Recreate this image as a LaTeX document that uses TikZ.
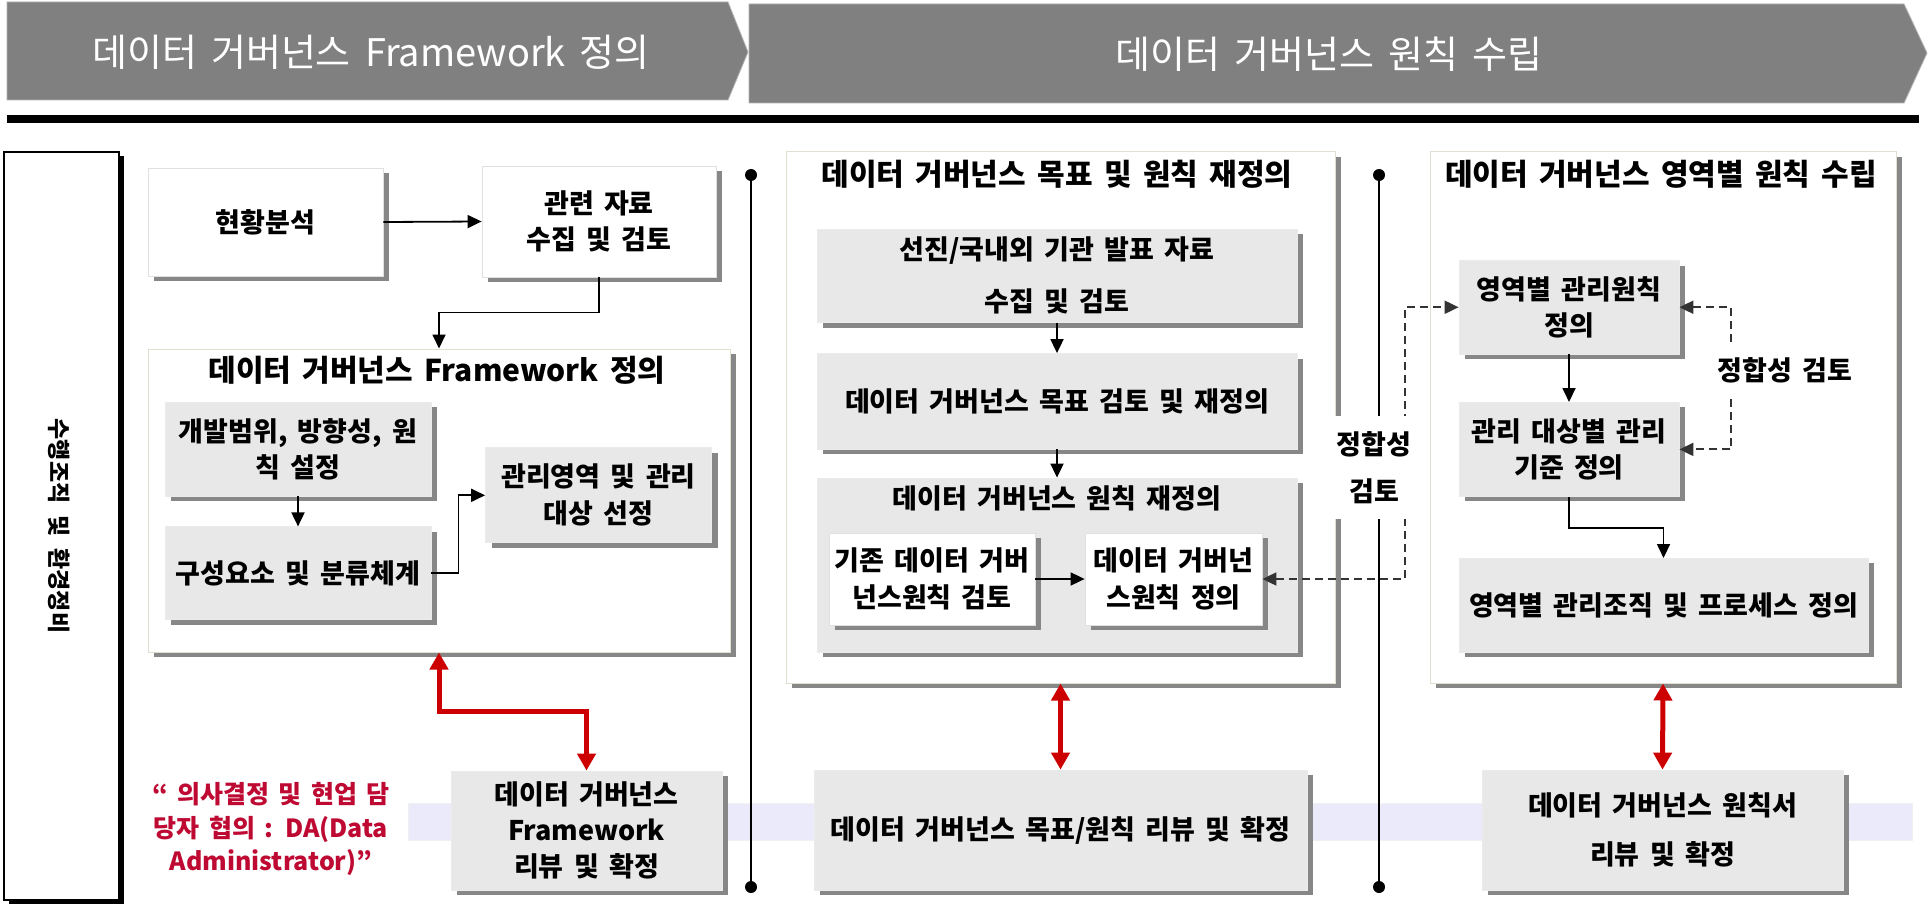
\documentclass[tikz,border=0pt]{standalone}
\usepackage{fontspec}
\setmainfont{Noto Sans CJK KR}[WordSpace=1.66]
\usetikzlibrary{arrows.meta,shadows,calc}
\definecolor{bannergray}{RGB}{128,128,128}
\definecolor{boxgray}{RGB}{232,232,232}
\definecolor{shadowgray}{RGB}{135,135,135}
\definecolor{panelborder}{RGB}{226,222,208}
\definecolor{bandcol}{RGB}{234,234,250}
\definecolor{arrred}{RGB}{204,0,0}
\definecolor{txtred}{RGB}{190,10,50}
\tikzset{
  lsp/.style={font=\bfseries\fontsize{27}{#1}\selectfont},
  shad/.style={drop shadow={shadow xshift=6pt, shadow yshift=-5pt, fill=shadowgray, opacity=1}},
  wbox/.style={inner sep=0pt, align=center, fill=white, draw=black!12, line width=0.8pt, shad},
  gbox/.style={inner sep=0pt, align=center, fill=boxgray, draw=black!8, line width=0.8pt, shad},
  panel/.style={inner sep=0pt, fill=white, draw=panelborder, line width=1pt, shad},
  ptitle/.style={inner sep=0pt, font=\bfseries\fontsize{30}{32}\selectfont},
  arr/.style={line width=1.8pt, -{Triangle[length=14pt,width=13pt]}},
  redarr/.style={line width=5pt, draw=arrred, {Triangle[length=17pt,width=18pt]}-{Triangle[length=17pt,width=18pt]}},
  dasharr/.style={line width=2pt, draw=black!80, dash pattern=on 8pt off 5pt, {Triangle[length=14pt,width=13pt]}-{Triangle[length=14pt,width=13pt]}},
  dotn/.style={circle, fill=black, inner sep=0pt, minimum size=12pt},
  vline/.style={line width=2pt},
  lbl/.style={fill=white, inner sep=0pt, align=center},
}
\begin{document}
\begin{tikzpicture}[x=1pt,y=-1pt]
\useasboundingbox (0,0) rectangle (1929,904);
\fill[white] (0,0) rectangle (1929,904);

% header banners
\fill[bannergray, draw=black!30, line width=0.8pt] (7,2) -- (728,2) -- (748,52) -- (728,100) -- (7,100) -- cycle;
\fill[bannergray, draw=black!30, line width=0.8pt] (749,4) -- (1904,4) -- (1927,53) -- (1904,103) -- (749,103) -- cycle;
\node[text=white, font=\fontsize{38}{40}\selectfont, inner sep=0pt] (h1) at (371,52) {데이터 거버넌스 Framework 정의};
\node[text=white, font=\fontsize{38}{40}\selectfont, inner sep=0pt] (h2) at (1329,54) {데이터 거버넌스 원칙 수립};
\fill[black] (7,115) rectangle (1919,123);

% lavender band
\fill[bandcol, draw=black!6] (408,803) rectangle (1912,840);

% vertical timeline lines
\node[dotn] (d1a) at (751,175) {};
\node[dotn] (d1b) at (751,887) {};
\node[dotn] (d2a) at (1379,175) {};
\node[dotn] (d2b) at (1379,887) {};
\draw[vline] (d1a) -- (d1b);
\draw[vline] (d2a) -- (d2b);

% left tall box
\node[draw=black, line width=1.5pt, fill=white, inner sep=0pt, minimum width=115pt, minimum height=748pt,
      drop shadow={shadow xshift=5pt, shadow yshift=-4pt, fill=black, opacity=1}] (tb) at (61.5,526) {};
\node[rotate=-90, font=\bfseries\fontsize{23}{26}\selectfont, inner sep=0pt] (tbt) at (59.5,526) {수행조직\hspace{12pt}및\hspace{12pt}환경정비};

% ---------- left column ----------
\node[wbox, lsp=36, minimum width=235pt, minimum height=108pt] (hb) at (265.5,222) {현황분석};
\node[wbox, lsp=36, minimum width=234pt, minimum height=111pt] (gr) at (599,221.5) {관련 자료\\수집 및 검토};
\node[panel, minimum width=582pt, minimum height=303pt] (fwp) at (439,500.5) {};
\node[ptitle] (fwt) at (437,370) {데이터 거버넌스 Framework 정의};
\node[gbox, lsp=36, minimum width=266pt, minimum height=94pt] (kb) at (298,449) {개발범위, 방향성, 원\\칙 설정};
\node[gbox, lsp=36, minimum width=266pt, minimum height=93pt] (gs) at (298,573.3) {구성요소 및 분류체계};
\node[gbox, lsp=37, minimum width=226pt, minimum height=95pt] (gy) at (598.5,495.3) {관리영역 및 관리\\대상 선정};
\node[gbox, lsp=36, minimum width=271pt, minimum height=119pt] (fr) at (586.5,830.5) {데이터 거버넌스\\Framework\\리뷰 및 확정};
\node[text=txtred, font=\bfseries\fontsize{25}{33.5}\selectfont, align=center, inner sep=0pt] (rt) at (271,829) {“ 의사결정 및 현업 담\\당자 협의 : DA(Data\\Administrator)”};

\draw[arr] (hb.east) -- (gr.west);
\draw[arr] (gr.south) -- ++(0,35) -| (fwp.north);
\draw[arr] (kb.south) -- (gs.north);
\draw[arr] (gs.east) -- ++(27,0) |- (gy.west);
\draw[redarr] (fwp.south) -- ++(0,59) -| (fr.north);

% ---------- middle column ----------
\node[panel, minimum width=549pt, minimum height=531pt] (p2) at (1060.5,417.5) {};
\node[ptitle] (p2t) at (1057,174) {데이터 거버넌스 목표 및 원칙 재정의};
\node[gbox, lsp=52, minimum width=480pt, minimum height=93.5pt] (sj) at (1057,275.75) {선진/국내외 기관 발표 자료\\수집 및 검토};
\node[gbox, lsp=35, minimum width=480pt, minimum height=95.5pt] (mp) at (1057,401.25) {데이터 거버넌스 목표 검토 및 재정의};
\node[gbox, minimum width=480pt, minimum height=174pt] (wc) at (1057,565) {};
\node[lsp=35, inner sep=0pt] (wct) at (1057,498) {데이터 거버넌스 원칙 재정의};
\node[wbox, lsp=37, minimum width=206pt, minimum height=92pt] (gj) at (932,579) {기존 데이터 거버\\넌스원칙 검토};
\node[wbox, lsp=37, minimum width=177pt, minimum height=92pt] (dg) at (1173.5,579) {데이터 거버넌\\스원칙 정의};
\node[gbox, lsp=35, minimum width=493pt, minimum height=120pt] (mr) at (1060.5,830) {데이터 거버넌스 목표/원칙 리뷰 및 확정};

\draw[arr] (sj.south) -- (mp.north);
\draw[arr] (mp.south) -- (wc.north);
\draw[arr] (gj.east) -- (dg.west);
\draw[redarr] (p2.south) -- (mr.north);

% ---------- right column ----------
\node[panel, minimum width=466pt, minimum height=531pt] (p3) at (1663,417.5) {};
\node[ptitle] (p3t) at (1661,174) {데이터 거버넌스 영역별 원칙 수립};
\node[gbox, lsp=36, minimum width=220pt, minimum height=93.5pt] (yb) at (1569,307.25) {영역별 관리원칙\\정의};
\node[gbox, lsp=36, minimum width=220pt, minimum height=94pt] (gb) at (1569,449.4) {관리 대상별 관리\\기준 정의};
\node[gbox, lsp=35, minimum width=409pt, minimum height=94pt] (yj) at (1663.5,605.4) {영역별 관리조직 및 프로세스 정의};
\node[gbox, lsp=49, minimum width=361pt, minimum height=120pt] (wr) at (1662.5,830) {데이터 거버넌스 원칙서\\리뷰 및 확정};

\draw[arr] (yb.south) -- (gb.north);
\draw[arr] (gb.south) -- ++(0,31) -| (yj.north);
\draw[redarr] (p3.south) -- (wr.north);

% dashed consistency-check connectors
\coordinate (dl) at (1405,0);
\draw[dasharr] (dg.east) -| (dl |- yb.west) -- (yb.west);
\draw[dasharr] (yb.east) -- ++(52,0) |- (gb.east);

% labels (white background breaks the lines behind them)
\node[lbl, lsp=47, minimum width=88pt, minimum height=103pt] (l1) at (1374,467.5) {정합성\\검토};
\node[lbl, lsp=30, minimum width=140pt, minimum height=55pt] (l2) at (1785,370.5) {정합성 검토};
\end{tikzpicture}
\end{document}
